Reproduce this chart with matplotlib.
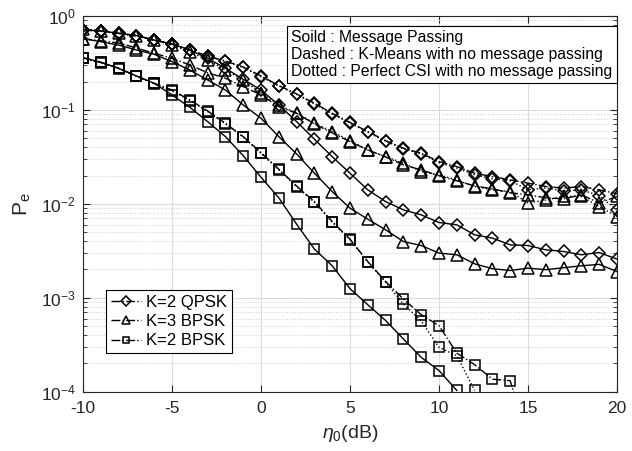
import numpy as np
import matplotlib
matplotlib.use("Agg")
import matplotlib.pyplot as plt

plt.rcParams['font.family'] = ['Liberation Sans', 'DejaVu Sans']
plt.rcParams['mathtext.fontset'] = 'custom'
plt.rcParams['mathtext.rm'] = 'Liberation Sans'
plt.rcParams['mathtext.it'] = 'Liberation Sans:italic'
plt.rcParams['mathtext.bf'] = 'Liberation Sans:bold'
plt.rcParams['axes.unicode_minus'] = False

snr = list(range(-10, 21))

# K=2 QPSK
qpsk_solid = [0.715, 0.692, 0.655, 0.620, 0.555, 0.504, 0.435, 0.355, 0.278, 0.212, 0.163,
              0.113, 0.0751, 0.0488, 0.0318, 0.0212, 0.0141, 0.01058, 0.00863, 0.00764,
              0.00633, 0.00598, 0.00468, 0.00432, 0.00366, 0.00360, 0.00324, 0.00311,
              0.00287, 0.00303, 0.00258]
qpsk_dash = [0.715, 0.692, 0.655, 0.620, 0.555, 0.504, 0.435, 0.375, 0.332, 0.287, 0.230,
             0.182, 0.148, 0.118, 0.0922, 0.0736, 0.0588, 0.0471, 0.0391, 0.0346, 0.0282,
             0.0249, 0.0212, 0.0195, 0.0180, 0.0166, 0.0153, 0.0147, 0.0153, 0.0141, 0.0128]
qpsk_dot = [0.705, 0.688, 0.650, 0.612, 0.550, 0.500, 0.432, 0.372, 0.328, 0.283, 0.226,
            0.180, 0.146, 0.116, 0.0905, 0.0725, 0.0580, 0.0465, 0.0385, 0.0340, 0.0275,
            0.0240, 0.0204, 0.0185, 0.0176, 0.0141, 0.0148, 0.0137, 0.0141, 0.0122, 0.0086]

# K=3 BPSK
k3_solid = [0.573, 0.533, 0.491, 0.435, 0.391, 0.3265, 0.266, 0.2085, 0.163, 0.113, 0.0816,
            0.052, 0.034, 0.0212, 0.0135, 0.0090, 0.00687, 0.00529, 0.00397, 0.0036,
            0.00299, 0.00287, 0.0023, 0.00204, 0.00195, 0.00207, 0.00199, 0.00209,
            0.00219, 0.00227, 0.0019]
k3_dash = [0.573, 0.546, 0.516, 0.457, 0.401, 0.355, 0.301, 0.249, 0.2175, 0.177, 0.1444,
           0.1084, 0.0922, 0.071, 0.0569, 0.046, 0.0375, 0.0316, 0.026, 0.023, 0.0199,
           0.0176, 0.0155, 0.01445, 0.0131, 0.0125, 0.0116, 0.0113, 0.0125, 0.0102, 0.0120]
k3_dot = [0.727, 0.688, 0.655, 0.617, 0.555, 0.491, 0.414, 0.340, 0.266, 0.2085, 0.1517,
          0.113, 0.0922, 0.0722, 0.0588, 0.0471, 0.0375, 0.0318, 0.0271, 0.0221, 0.0203,
          0.0180, 0.0153, 0.0141, 0.0135, 0.0102, 0.0110, 0.0120, 0.0120, 0.00936, 0.00733]

# K=2 BPSK
b2_solid = [0.360, 0.322, 0.278, 0.230, 0.192, 0.1444, 0.1068, 0.0751, 0.052, 0.0326, 0.0192,
            0.0116, 0.00608, 0.0033, 0.00219, 0.00125, 0.000842, 0.000573, 0.000364,
            0.000232, 0.000168, 0.000103]
b2_dash = [0.360, 0.322, 0.278, 0.230, 0.192, 0.163, 0.1278, 0.0976, 0.0722, 0.052, 0.0351,
           0.0234, 0.0155, 0.01058, 0.00648, 0.00421, 0.00243, 0.00149, 0.00097, 0.00066,
           0.000504, 0.000258, 0.000194, 0.000136, 0.000131, 0.00003]
b2_dot = [0.355, 0.318, 0.275, 0.228, 0.190, 0.160, 0.1260, 0.0960, 0.0712, 0.0515, 0.0345,
          0.0230, 0.0152, 0.0104, 0.00640, 0.00415, 0.00240, 0.00147, 0.000857, 0.000569,
          0.000296, 0.000242, 0.000103]

legend_labels = ['K=2 QPSK', 'K=3 BPSK', 'K=2 BPSK']
note_lines = ['Soild : Message Passing',
              'Dashed : K-Means with no message passing',
              'Dotted : Perfect CSI with no message passing']

fig = plt.figure(figsize=(6.32, 4.51), dpi=100)
ax = fig.add_axes([0.1313, 0.1315, 0.845, 0.833])

mk = dict(color='black', mfc='none', mec='black', mew=1.1, lw=1.0)

def n(y):
    return snr[:len(y)]

# dashed (K-means) curves - used for legend
h1, = ax.semilogy(n(qpsk_dash), qpsk_dash, '-.', marker='D', ms=6.5, **mk)
h2, = ax.semilogy(n(k3_dash), k3_dash, '-.', marker='^', ms=8, **mk)
h3, = ax.semilogy(n(b2_dash), b2_dash, '-.', marker='s', ms=6.5, **mk)
# dotted
ax.semilogy(n(qpsk_dot), qpsk_dot, ':', marker='D', ms=6.5, **mk)
ax.semilogy(n(k3_dot), k3_dot, ':', marker='^', ms=8, **mk)
ax.semilogy(n(b2_dot), b2_dot, ':', marker='s', ms=6.5, **mk)
# solid
ax.semilogy(n(qpsk_solid), qpsk_solid, '-', marker='D', ms=6.5, **mk)
ax.semilogy(n(k3_solid), k3_solid, '-', marker='^', ms=8, **mk)
ax.semilogy(n(b2_solid), b2_solid, '-', marker='s', ms=6.5, **mk)

ax.set_xlim(-10, 20)
ax.set_ylim(1e-4, 1)
ax.set_xticks([-10, -5, 0, 5, 10, 15, 20])

gc = '#262626'
ax.grid(True, which='major', color='#dcdcdc', lw=0.8, ls='-')
ax.grid(True, which='minor', axis='y', color='#d0d0d0', lw=0.7, ls=':')
ax.set_axisbelow(True)
for s in ax.spines.values():
    s.set_color(gc)
    s.set_linewidth(0.8)
ax.tick_params(which='both', direction='in', top=True, right=True, colors=gc,
               labelsize=12.5, labelcolor=gc)
ax.tick_params(which='major', length=5)
ax.tick_params(which='minor', length=3)
ax.tick_params(axis='x', which='minor', bottom=False, top=False)
ax.tick_params(axis='x', which='major', pad=7)
ax.tick_params(axis='y', which='major', pad=5)

ax.set_xlabel(r'$\eta_0$(dB)', fontsize=14, color=gc, labelpad=5)
ax.set_ylabel(r'P$_\mathrm{e}$', fontsize=15, color=gc, labelpad=6)

leg = ax.legend([h1, h2, h3], legend_labels, loc='lower left',
                bbox_to_anchor=(0.0425, 0.102), borderaxespad=0, fontsize=12,
                fancybox=False, edgecolor='black', framealpha=1, markerscale=0.75,
                handlelength=1.8, handletextpad=0.3, borderpad=0.3, labelspacing=0.25)
leg.get_frame().set_linewidth(0.8)

ax.text(0.992, 0.962, '\n'.join(note_lines), transform=ax.transAxes, ha='right', va='top',
        multialignment='left', fontsize=11.3, linespacing=1.15, color='black',
        bbox=dict(boxstyle='square,pad=0.28', fc='white', ec='black', lw=0.8))

fig.savefig('out.png', dpi=100)
